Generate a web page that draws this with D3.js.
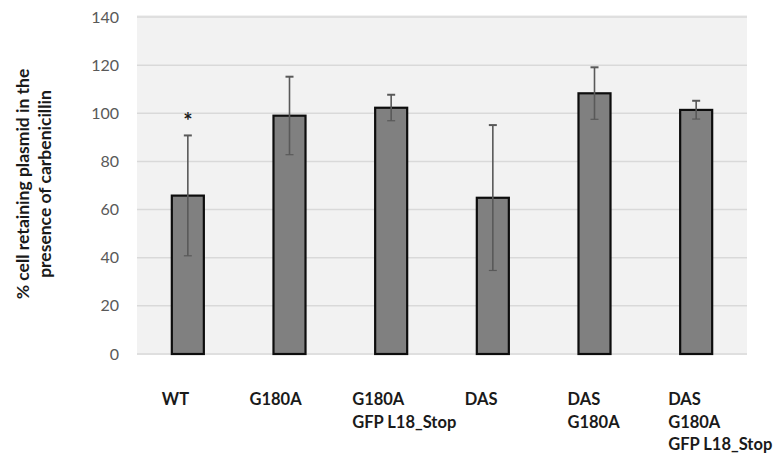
<!DOCTYPE html>
<html>
<head>
<meta charset="utf-8">
<script src="https://cdn.jsdelivr.net/npm/d3@7/dist/d3.min.js"></script>
<style>
  html, body { margin: 0; padding: 0; background: #fff; }
  svg { display: block; font-family: Lato, "Open Sans", sans-serif; }
</style>
</head>
<body>
<div id="chart"></div>
<script>
// values
const categories = ['WT', 'G180A', 'G180A GFP', 'DAS', 'DAS G180A', 'DAS G180A GFP'];
const labelLines = [
  ['WT'],
  ['G180A'],
  ['G180A', 'GFP L18_Stop'],
  ['DAS'],
  ['DAS', 'G180A'],
  ['DAS', 'G180A', 'GFP L18_Stop']
];
const means = [65.8, 99.0, 102.3, 64.9, 108.3, 101.4];
const errors = [25.0, 16.2, 5.4, 30.2, 10.8, 3.8];
const significant = [true, false, false, false, false, false];
const yTicks = [0, 20, 40, 60, 80, 100, 120, 140];

const colors = {
  plotBg: '#f2f2f2',
  grid: '#d9d9d9',
  bar: '#808080',
  barStroke: '#0d0d0d',
  errBar: '#595959',
  tickText: '#595959',
  text: '#1a1a1a'
};

const width = 773, height = 456;
const plot = { left: 137, right: 747, top: 17, bottom: 354 };
// small left nudges for the category labels, as in the source figure
const labelShift = [-26, -40, -39, -28, -27, -28];

const svg = d3.select('#chart').append('svg')
  .attr('width', width)
  .attr('height', height);

const x = d3.scaleBand()
  .domain(categories)
  .range([plot.left, plot.right])
  .paddingInner(0.685)
  .paddingOuter(0.3425);

const y = d3.scaleLinear()
  .domain([0, 140])
  .range([plot.bottom, plot.top]);

svg.append('rect')
  .attr('x', plot.left)
  .attr('y', plot.top - 2)
  .attr('width', plot.right - plot.left)
  .attr('height', plot.bottom - plot.top + 3)
  .attr('fill', colors.plotBg);

// gridlines
svg.append('g')
  .selectAll('line')
  .data(yTicks)
  .join('line')
  .attr('x1', plot.left)
  .attr('x2', plot.right)
  .attr('y1', d => y(d))
  .attr('y2', d => y(d))
  .attr('stroke', colors.grid)
  .attr('stroke-width', 1.5);

// y tick labels
const yAxis = svg.append('g')
  .attr('transform', `translate(${plot.left - 18},0)`)
  .call(d3.axisLeft(y).tickValues(yTicks).tickSize(0).tickPadding(0));
yAxis.select('.domain').remove();
yAxis.selectAll('text')
  .attr('fill', colors.tickText)
  .style('font-size', '16px')
  .style('font-family', 'Lato, sans-serif');

// bars
const bw = x.bandwidth();
svg.append('g')
  .selectAll('rect')
  .data(categories)
  .join('rect')
  .attr('x', d => x(d))
  .attr('y', (d, i) => y(means[i]))
  .attr('width', bw)
  .attr('height', (d, i) => y(0) - y(means[i]))
  .attr('fill', colors.bar)
  .attr('stroke', colors.barStroke)
  .attr('stroke-width', 2.2);

// error bars
const err = svg.append('g')
  .attr('stroke', colors.errBar)
  .attr('stroke-width', 1.6);
categories.forEach((c, i) => {
  const cx = x(c) + bw / 2;
  const hi = y(means[i] + errors[i]);
  const lo = y(means[i] - errors[i]);
  err.append('line').attr('x1', cx).attr('x2', cx).attr('y1', hi).attr('y2', lo);
  err.append('line').attr('x1', cx - 4).attr('x2', cx + 4).attr('y1', hi).attr('y2', hi).attr('stroke-width', 2);
  err.append('line').attr('x1', cx - 4).attr('x2', cx + 4).attr('y1', lo).attr('y2', lo).attr('stroke-width', 1.2);
  if (significant[i]) {
    svg.append('text')
      .attr('x', cx)
      .attr('y', hi - 6)
      .attr('text-anchor', 'middle')
      .attr('fill', colors.text)
      .style('font-size', '22px')
      .style('font-weight', 'bold')
      .text('*');
  }
});

// category labels
const labels = svg.append('g')
  .style('font-size', '16.5px')
  .style('font-weight', 'bold')
  .attr('fill', colors.text);
categories.forEach((c, i) => {
  const t = labels.append('text')
    .attr('x', x(c) + bw / 2 + labelShift[i])
    .attr('y', 405);
  labelLines[i].forEach((line, j) => {
    t.append('tspan')
      .attr('x', x(c) + bw / 2 + labelShift[i])
      .attr('dy', j === 0 ? 0 : 22.5)
      .text(line);
  });
});

// y axis title
const title = svg.append('text')
  .attr('transform', 'translate(29,184) rotate(-90)')
  .attr('text-anchor', 'middle')
  .attr('fill', colors.text)
  .style('font-size', '17.5px')
  .style('font-weight', 'bold');
title.append('tspan').attr('x', 0).attr('dy', 0).text('% cell retaining plasmid in the');
title.append('tspan').attr('x', 0).attr('dy', 22).text('presence of carbenicillin');
</script>
</body>
</html>
